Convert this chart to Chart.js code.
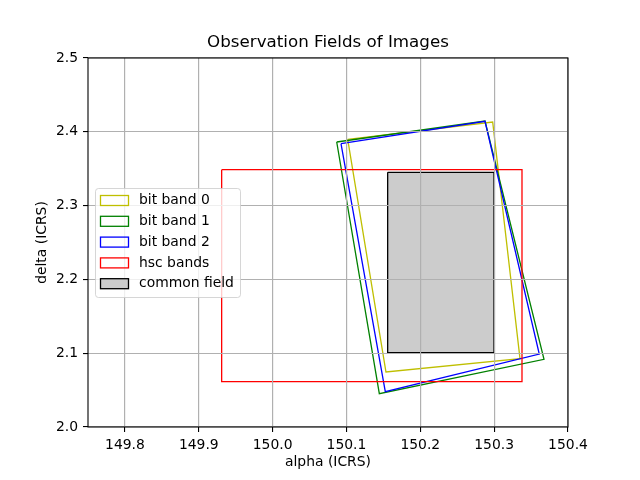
<!DOCTYPE html>
<html>
<head>
<meta charset="utf-8">
<script src="https://cdn.jsdelivr.net/npm/chart.js@4/dist/chart.umd.min.js"></script>
<style>
  html, body { margin: 0; padding: 0; background: #fff; }
  #wrap { width: 640px; height: 480px; }
</style>
</head>
<body>
<div id="wrap"><canvas id="c" width="640" height="480"></canvas></div>
<script>
// ---- data (corner coordinates) ----
const chartTitle = 'Observation Fields of Images';
const seriesLabels = ['bit band 0', 'bit band 1', 'bit band 2', 'hsc bands', 'common field'];

const bitBand0Alpha = [150.1017, 150.2980, 150.3350, 150.1535];
const bitBand0Delta = [2.3898, 2.4133, 2.0925, 2.0745];

const bitBand1Alpha = [150.0868, 150.2876, 150.3675, 150.1445];
const bitBand1Delta = [2.3862, 2.4146, 2.0917, 2.0451];

const bitBand2Alpha = [150.0926, 150.2876, 150.3611, 150.1526];
const bitBand2Delta = [2.3839, 2.4142, 2.0989, 2.0478];

const hscAlpha = [149.9310, 150.3377, 150.3377, 149.9310];
const hscDelta = [2.3487, 2.3487, 2.0614, 2.0614];

const commonAlpha = [150.1558, 150.2998, 150.2998, 150.1558];
const commonDelta = [2.3451, 2.3451, 2.1007, 2.1007];

const xTicks = [149.8, 149.9, 150.0, 150.1, 150.2, 150.3, 150.4];
const yTicks = [2.0, 2.1, 2.2, 2.3, 2.4, 2.5];

const xRange = [149.75, 150.4];
const yRange = [2.0, 2.5];

// ---- build polygons ----
function polygon(xs, ys) {
  const pts = xs.map((x, i) => ({ x: x, y: ys[i] }));
  pts.push({ x: xs[0], y: ys[0] });
  return pts;
}

const edgeColors = ['#bfbf00', '#008000', '#0000ff', '#ff0000', '#000000'];
const faceColors = [null, null, null, null, '#cccccc'];
const polys = [
  polygon(bitBand0Alpha, bitBand0Delta),
  polygon(bitBand1Alpha, bitBand1Delta),
  polygon(bitBand2Alpha, bitBand2Delta),
  polygon(hscAlpha, hscDelta),
  polygon(commonAlpha, commonDelta)
];

const datasets = polys.map((pts, i) => ({
  label: seriesLabels[i],
  data: pts,
  showLine: true,
  borderColor: edgeColors[i],
  backgroundColor: faceColors[i] || 'rgba(0,0,0,0)',
  fill: faceColors[i] ? 'shape' : false,
  borderWidth: 1.3,
  pointRadius: 0,
  tension: 0,
  order: polys.length - i
}));

const FONT = "'DejaVu Sans', sans-serif";
Chart.defaults.color = '#000';
Chart.defaults.font.family = FONT;

const GRID_COLOR = '#b0b0b0';
const GRID_W = 1.1;

// matplotlib draws the grid above filled patches: redraw grid lines over the plot area
const gridOverPlugin = {
  id: 'gridOver',
  afterDraw(chart) {
    const { ctx, chartArea: a } = chart;
    const align = p => Math.round(p - GRID_W / 2) + GRID_W / 2;
    ctx.save();
    ctx.beginPath();
    ctx.rect(a.left, a.top, a.right - a.left, a.bottom - a.top);
    ctx.clip();
    ctx.strokeStyle = GRID_COLOR;
    ctx.lineWidth = GRID_W;
    const xs = chart.scales.x, ys = chart.scales.y;
    xs.ticks.forEach(t => {
      const px = align(xs.getPixelForValue(t.value));
      ctx.beginPath(); ctx.moveTo(px, a.top); ctx.lineTo(px, a.bottom); ctx.stroke();
    });
    ys.ticks.forEach(t => {
      const py = align(ys.getPixelForValue(t.value));
      ctx.beginPath(); ctx.moveTo(a.left, py); ctx.lineTo(a.right, py); ctx.stroke();
    });
    ctx.restore();
  }
};

const framePlugin = {
  id: 'frame',
  afterDraw(chart) {
    const { ctx, chartArea: a } = chart;
    ctx.save();
    ctx.strokeStyle = '#000';
    ctx.lineWidth = 1.1;
    ctx.strokeRect(a.left, a.top, a.right - a.left, a.bottom - a.top);
    ctx.font = '16.7px ' + FONT;
    ctx.fillStyle = '#000';
    ctx.textAlign = 'center';
    ctx.textBaseline = 'middle';
    ctx.fillText(chartTitle, (a.left + a.right) / 2, 43);
    ctx.restore();
  }
};

const legendPlugin = {
  id: 'insideLegend',
  afterDraw(chart) {
    const ctx = chart.ctx;
    const x0 = 95.5, y0 = 188.5, w = 145, h = 109, r = 3;
    ctx.save();
    ctx.beginPath();
    ctx.moveTo(x0 + r, y0);
    ctx.lineTo(x0 + w - r, y0);
    ctx.quadraticCurveTo(x0 + w, y0, x0 + w, y0 + r);
    ctx.lineTo(x0 + w, y0 + h - r);
    ctx.quadraticCurveTo(x0 + w, y0 + h, x0 + w - r, y0 + h);
    ctx.lineTo(x0 + r, y0 + h);
    ctx.quadraticCurveTo(x0, y0 + h, x0, y0 + h - r);
    ctx.lineTo(x0, y0 + r);
    ctx.quadraticCurveTo(x0, y0, x0 + r, y0);
    ctx.closePath();
    ctx.fillStyle = 'rgba(255,255,255,0.8)';
    ctx.fill();
    ctx.strokeStyle = 'rgba(204,204,204,0.8)';
    ctx.lineWidth = 1;
    ctx.stroke();

    ctx.font = '13.9px ' + FONT;
    ctx.textBaseline = 'middle';
    ctx.textAlign = 'left';
    chart.data.datasets.forEach((ds, i) => {
      const cy = 200.5 + i * 20.8;
      const sx = 100.5, sw = 28, sh = 10;
      if (faceColors[i]) {
        ctx.fillStyle = faceColors[i];
        ctx.fillRect(sx, cy - sh / 2, sw, sh);
      }
      ctx.strokeStyle = ds.borderColor;
      ctx.lineWidth = 1.3;
      ctx.strokeRect(sx, cy - sh / 2, sw, sh);
      ctx.fillStyle = '#000';
      ctx.fillText(ds.label, 139, cy);
    });
    ctx.restore();
  }
};

new Chart(document.getElementById('c'), {
  type: 'scatter',
  data: { datasets: datasets },
  options: {
    responsive: false,
    animation: false,
    events: [],
    layout: { padding: { left: 0, right: 72, top: 58, bottom: 0 } },
    plugins: {
      legend: { display: false },
      tooltip: { enabled: false },
      title: { display: false },
      filler: { drawTime: 'beforeDraw' }
    },
    scales: {
      x: {
        type: 'linear',
        min: xRange[0],
        max: xRange[1],
        afterBuildTicks(scale) { scale.ticks = xTicks.map(v => ({ value: v })); },
        afterFit(scale) { scale.height = 53; },
        ticks: {
          callback: v => Number(v).toFixed(1),
          font: { family: FONT, size: 13.9 },
          color: '#000',
          padding: 5,
          maxRotation: 0,
          autoSkip: false
        },
        grid: { color: GRID_COLOR, lineWidth: GRID_W, tickColor: '#000', tickLength: 5, tickWidth: 1.1 },
        border: { display: false },
        title: {
          display: true,
          text: 'alpha (ICRS)',
          color: '#000',
          font: { family: FONT, size: 13.9, lineHeight: 1.2 },
          padding: { top: 0, bottom: 9 }
        }
      },
      y: {
        type: 'linear',
        min: yRange[0],
        max: yRange[1],
        afterBuildTicks(scale) { scale.ticks = yTicks.map(v => ({ value: v })); },
        afterFit(scale) { scale.width = 88; },
        ticks: {
          callback: v => Number(v).toFixed(1),
          font: { family: FONT, size: 13.9 },
          color: '#000',
          padding: 5,
          autoSkip: false
        },
        grid: { color: GRID_COLOR, lineWidth: GRID_W, tickColor: '#000', tickLength: 5, tickWidth: 1.1 },
        border: { display: false },
        title: {
          display: true,
          text: 'delta (ICRS)',
          color: '#000',
          font: { family: FONT, size: 13.9, lineHeight: 1.2 },
          padding: { top: 34, bottom: 0 }
        }
      }
    }
  },
  plugins: [gridOverPlugin, framePlugin, legendPlugin]
});
</script>
</body>
</html>
